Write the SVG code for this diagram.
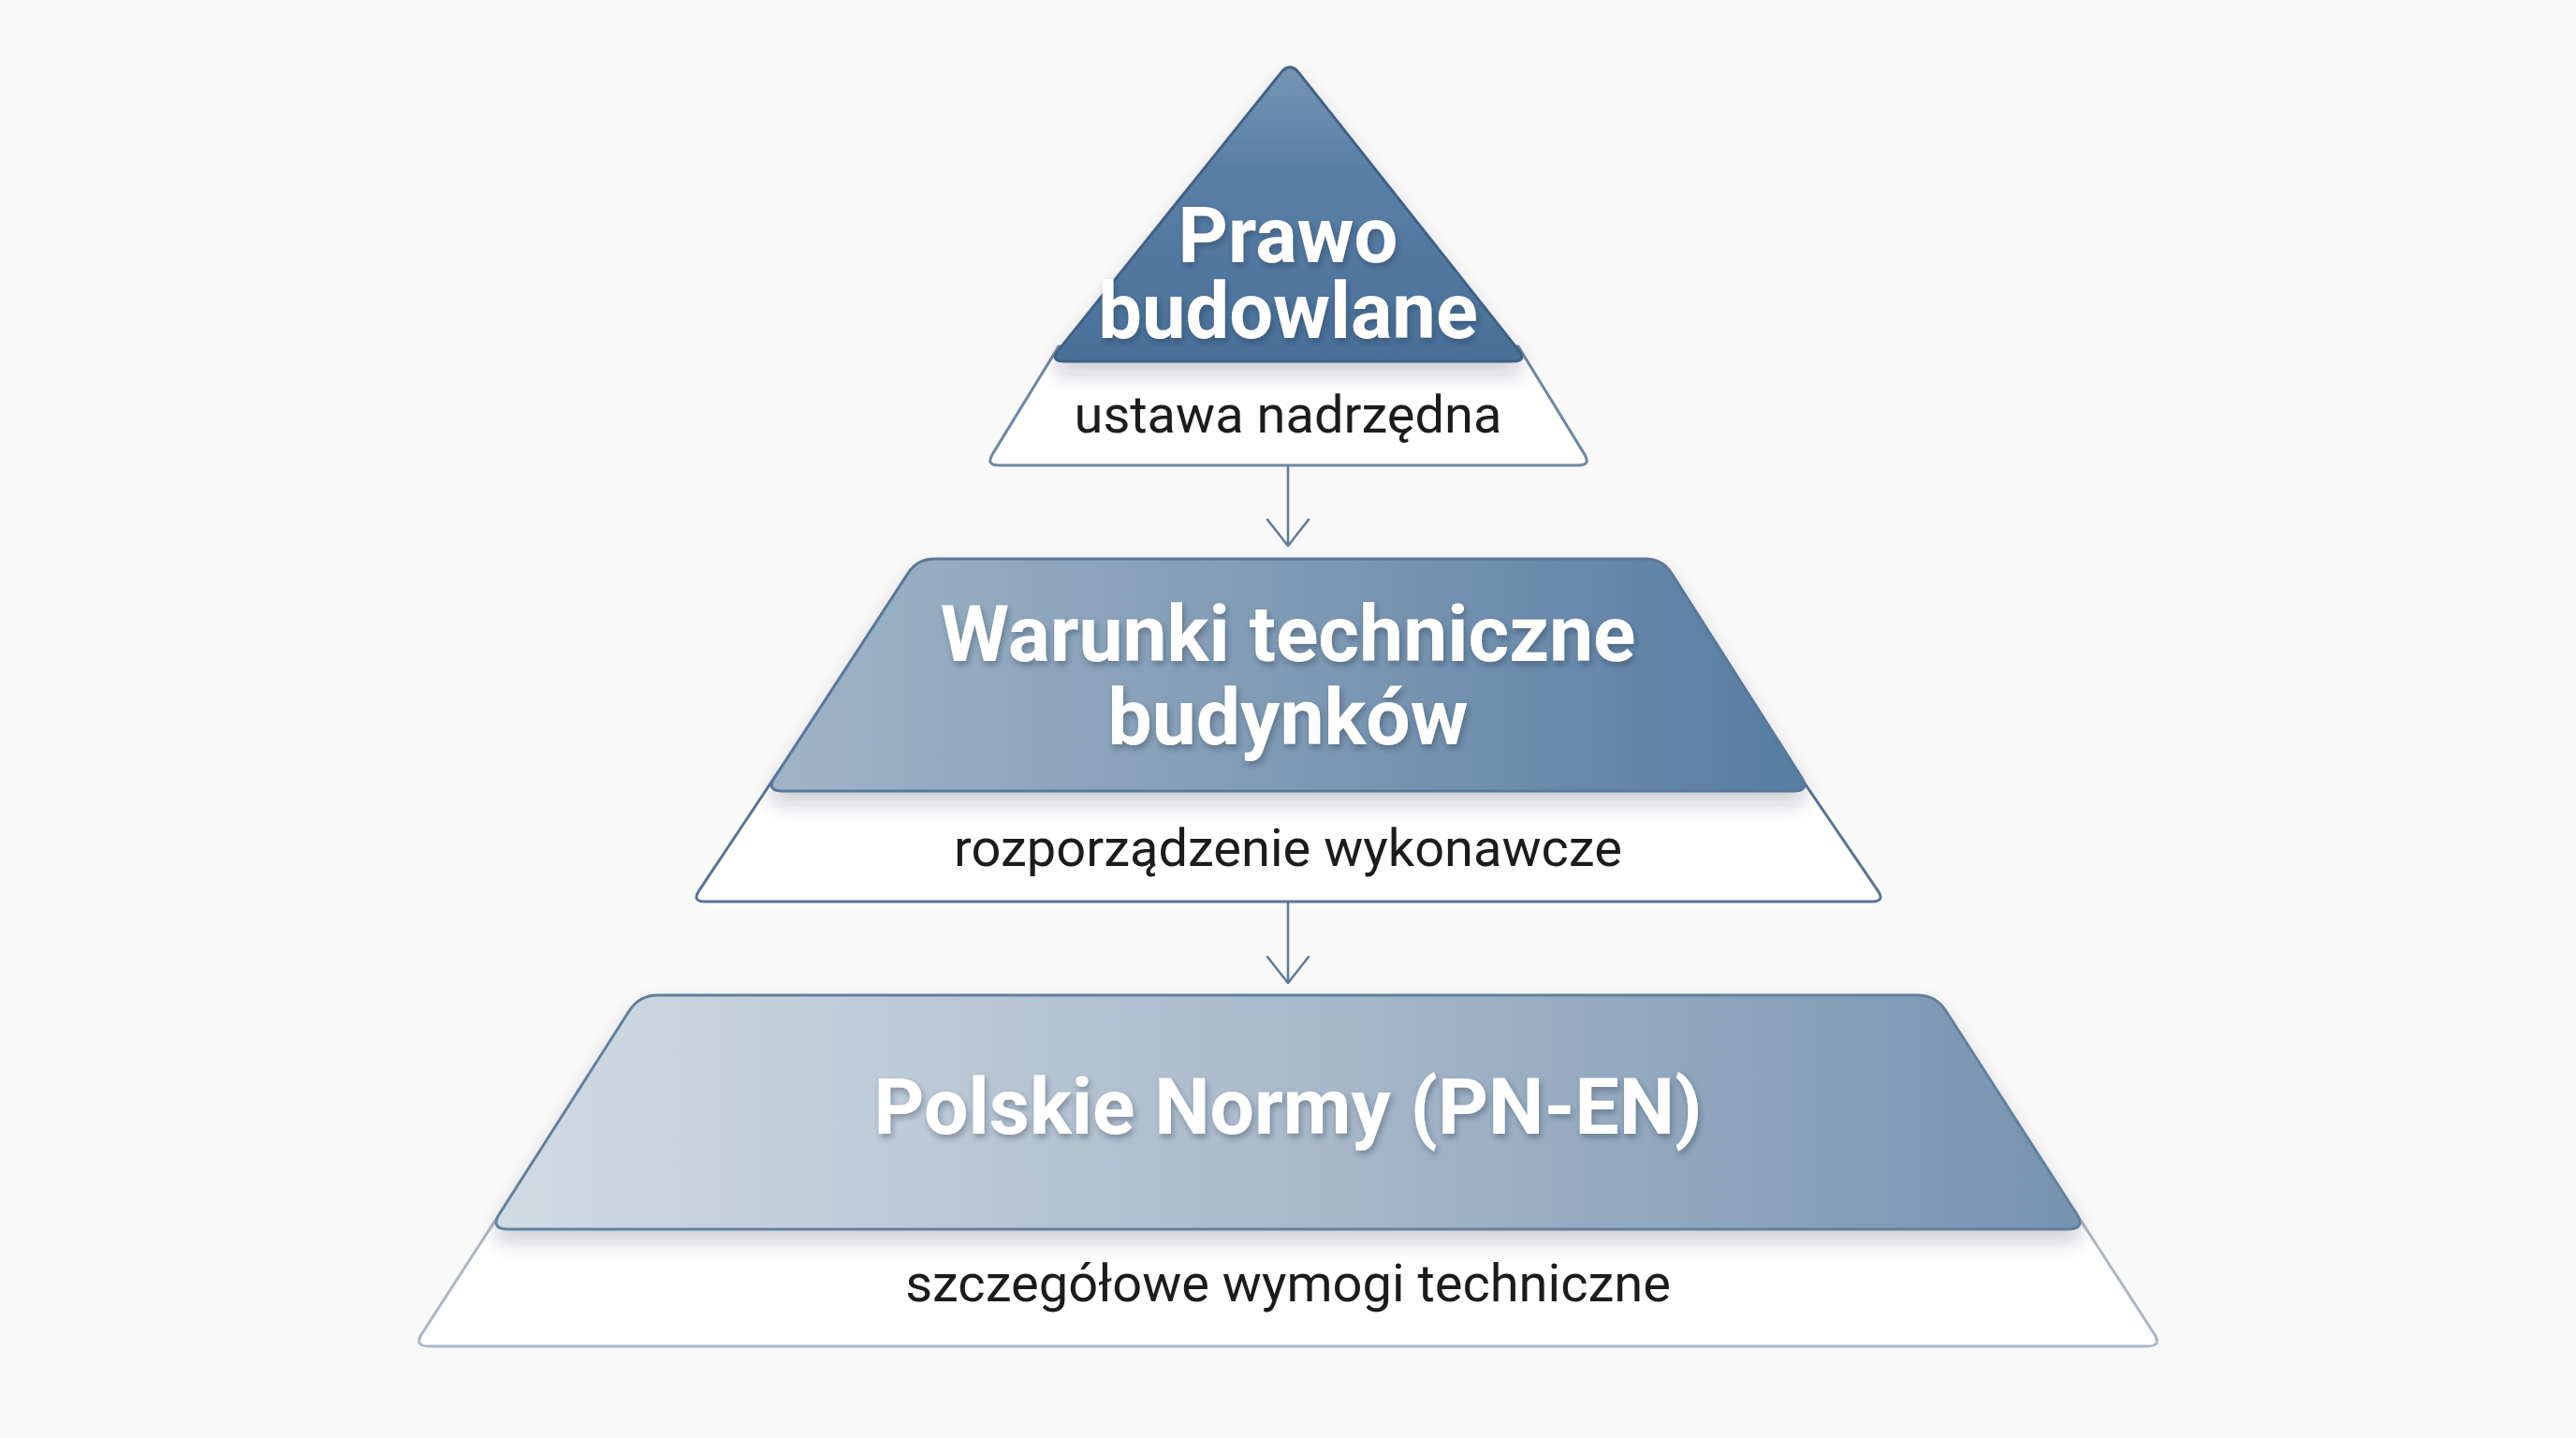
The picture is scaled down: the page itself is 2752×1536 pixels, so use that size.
<svg xmlns="http://www.w3.org/2000/svg" width="2752" height="1536" viewBox="0 0 2752 1536">
  <defs>
    <linearGradient id="gTop" x1="0" y1="66" x2="0" y2="386" gradientUnits="userSpaceOnUse">
      <stop offset="0" stop-color="#7896b5"/>
      <stop offset="0.35" stop-color="#5a7fa6"/>
      <stop offset="1" stop-color="#4a7099"/>
    </linearGradient>
    <linearGradient id="gMid" x1="818" y1="0" x2="1934" y2="0" gradientUnits="userSpaceOnUse">
      <stop offset="0" stop-color="#a0b4c7"/>
      <stop offset="0.5" stop-color="#7f9ab4"/>
      <stop offset="1" stop-color="#567ca2"/>
    </linearGradient>
    <linearGradient id="gBot" x1="523" y1="0" x2="2229" y2="0" gradientUnits="userSpaceOnUse">
      <stop offset="0" stop-color="#d2dbe4"/>
      <stop offset="0.5" stop-color="#a9bacb"/>
      <stop offset="1" stop-color="#7692b0"/>
    </linearGradient>
    <filter id="shadow" x="-10%" y="-10%" width="120%" height="140%">
      <feDropShadow dx="0" dy="12" stdDeviation="10" flood-color="#1d2c3d" flood-opacity="0.22"/>
    </filter>
    <filter id="tshadow" x="-10%" y="-20%" width="120%" height="150%">
      <feDropShadow dx="2" dy="4" stdDeviation="3" flood-color="#1b2a3a" flood-opacity="0.35"/>
    </filter>
    <marker id="arrow" markerUnits="userSpaceOnUse" markerWidth="64" markerHeight="64" viewBox="-32 -32 64 64" refX="0" refY="0" orient="auto" overflow="visible">
      <path d="M-28,-22 L0,0 L-28,22" fill="none" stroke="#5f7a96" stroke-width="2.5" stroke-linecap="round" stroke-linejoin="round"/>
    </marker>
  </defs>
  <style>
    .outer { fill: #ffffff; stroke-width: 3; stroke-linejoin: round; }
    .band { stroke-width: 3; stroke-linejoin: round; filter: url(#shadow); }
    .title { font-family: Roboto, "Liberation Sans", sans-serif; font-weight: 700; text-anchor: middle; fill: #ffffff; filter: url(#tshadow); }
    .sub { font-family: Roboto, "Liberation Sans", sans-serif; font-weight: 400; font-size: 56px; text-anchor: middle; fill: #1c1c1c; }
    .conn { stroke: #5f7a96; stroke-width: 2.5; fill: none; }
  </style>
  <rect x="0" y="0" width="2752" height="1536" fill="#f9f9fa"/>

  <g id="level-bottom">
    <path class="outer" stroke="#aeb8c3" d="M536,1293 L450.7,1424.6 Q442,1438 458,1438 L2294,1438 Q2310,1438 2301.3,1424.6 L2216,1293 Z"/>
    <path class="band" fill="url(#gBot)" stroke="#62809c" d="M703,1063 L2048,1063 Q2068,1063 2078.8,1079.8 L2218.2,1296.2 Q2229,1313 2209,1313 L543,1313 Q523,1313 533.8,1296.2 L672.2,1079.8 Q683,1063 703,1063 Z"/>
    <text class="title" x="1376" y="1211" font-size="84" fill="#f4f6f9">Polskie Normy (PN-EN)</text>
    <text class="sub" x="1376" y="1390">szczegółowe wymogi techniczne</text>
  </g>

  <g id="level-middle">
    <path class="outer" stroke="#5a7490" d="M831,825 L746.8,951.4 Q739,963 753,963 L2000,963 Q2014,963 2006.1,951.4 L1920,825 Z"/>
    <path class="band" fill="url(#gMid)" stroke="#5a7898" d="M998,597 L1758,597 Q1776,597 1785.7,612.2 L1924.3,829.8 Q1934,845 1916,845 L836,845 Q818,845 827.9,829.9 L970.2,612.1 Q980,597 998,597 Z"/>
    <text class="title" font-size="84"><tspan x="1376" y="706">Warunki techniczne</tspan><tspan x="1376" y="795">budynków</tspan></text>
    <text class="sub" x="1376" y="925">rozporządzenie wykonawcze</text>
  </g>

  <g id="level-top">
    <path class="outer" stroke="#6f88a3" d="M1131,370 L1060.3,485.1 Q1053,497 1067,497 L1686,497 Q1700,497 1692.7,485.1 L1622,370 Z"/>
    <path class="band" fill="url(#gTop)" stroke="#3f6185" d="M1368.5,77.6 Q1378,66 1387.5,77.6 L1621.9,373.6 Q1632,386 1616,386 L1137,386 Q1121,386 1131.1,373.6 Z"/>
    <text class="title" font-size="83"><tspan x="1376" y="280">Prawo</tspan><tspan x="1376" y="361">budowlane</tspan></text>
    <text class="sub" x="1376" y="462">ustawa nadrzędna</text>
  </g>

  <g id="connectors">
    <line class="conn" x1="1376" y1="498" x2="1376" y2="583" marker-end="url(#arrow)"/>
    <line class="conn" x1="1376" y1="964" x2="1376" y2="1050" marker-end="url(#arrow)"/>
  </g>
</svg>
